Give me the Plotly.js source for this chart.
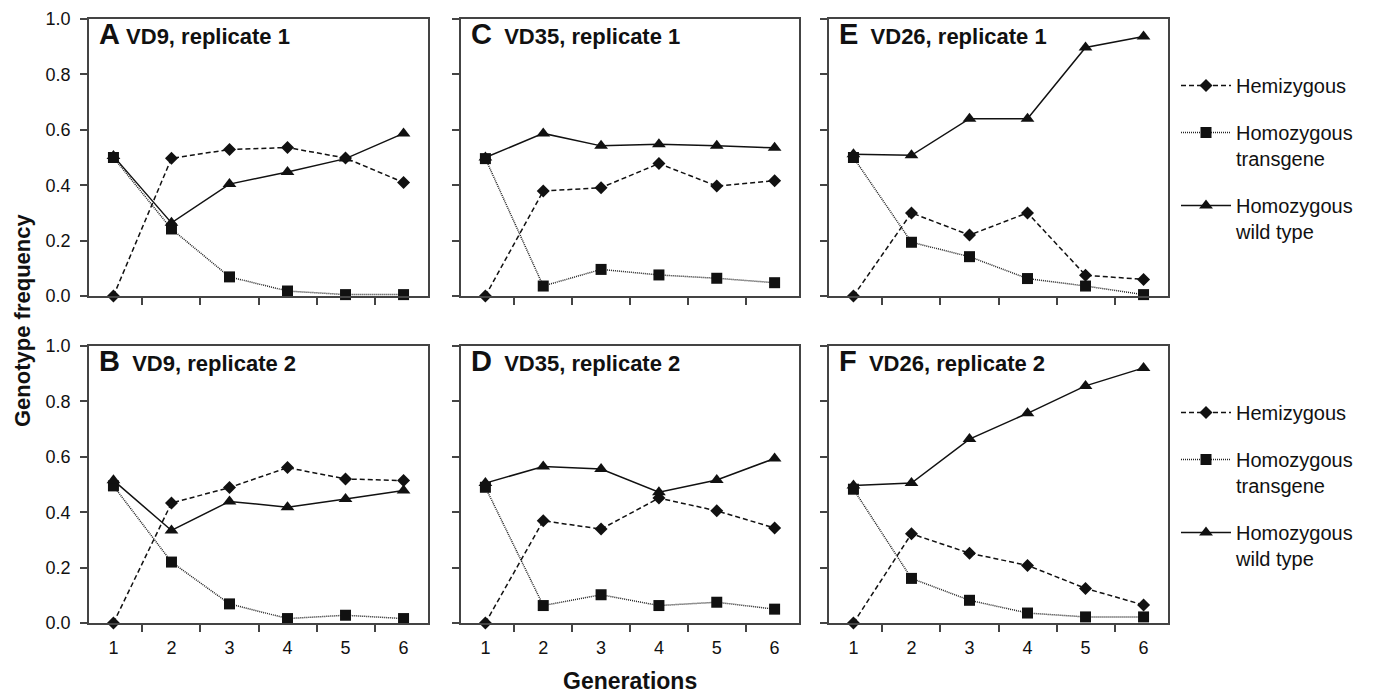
<!DOCTYPE html>
<html>
<head>
<meta charset="utf-8">
<script src="https://cdn.plot.ly/plotly-3.0.1.min.js"></script>
<style>html,body{margin:0;padding:0;background:#fff;}#chart{width:1374px;height:696px;}</style>
</head>
<body>
<div id="chart"></div>
<script>
// Generations (x categories)
const generations = ['1', '2', '3', '4', '5', '6'];

// Panel A: VD9, replicate 1
const hemiA  = [0, 0.497, 0.529, 0.536, 0.498, 0.410];
const transA = [0.500, 0.242, 0.069, 0.018, 0.005, 0.005];
const wildA  = [0.505, 0.264, 0.404, 0.448, 0.496, 0.587];

// Panel C: VD35, replicate 1
const hemiC  = [0, 0.379, 0.391, 0.478, 0.397, 0.416];
const transC = [0.496, 0.036, 0.096, 0.076, 0.064, 0.048];
const wildC  = [0.500, 0.587, 0.542, 0.548, 0.542, 0.535];

// Panel E: VD26, replicate 1
const hemiE  = [0, 0.300, 0.220, 0.300, 0.075, 0.060];
const transE = [0.500, 0.194, 0.142, 0.063, 0.036, 0.005];
const wildE  = [0.512, 0.508, 0.640, 0.640, 0.897, 0.937];

// Panel B: VD9, replicate 2
const hemiB  = [0, 0.433, 0.489, 0.561, 0.520, 0.514];
const transB = [0.495, 0.220, 0.069, 0.016, 0.028, 0.016];
const wildB  = [0.515, 0.334, 0.439, 0.418, 0.448, 0.478];

// Panel D: VD35, replicate 2
const hemiD  = [0, 0.369, 0.339, 0.451, 0.405, 0.343];
const transD = [0.490, 0.063, 0.102, 0.063, 0.075, 0.050];
const wildD  = [0.505, 0.565, 0.556, 0.472, 0.516, 0.594];

// Panel F: VD26, replicate 2
const hemiF  = [0, 0.322, 0.252, 0.208, 0.125, 0.065];
const transF = [0.483, 0.161, 0.082, 0.036, 0.022, 0.022];
const wildF  = [0.496, 0.505, 0.664, 0.757, 0.856, 0.921];

const seriesNames = ['Hemizygous', 'Homozygous<br>transgene', 'Homozygous<br>wild type'];
const panelLetters = ['A', 'C', 'E', 'B', 'D', 'F'];
const panelTitles = ['VD9, replicate 1', 'VD35, replicate 1', 'VD26, replicate 1',
                     'VD9, replicate 2', 'VD35, replicate 2', 'VD26, replicate 2'];
const yTickVals = [0, 0.2, 0.4, 0.6, 0.8, 1.0];

const panels = [
  [hemiA, transA, wildA], [hemiC, transC, wildC], [hemiE, transE, wildE],
  [hemiB, transB, wildB], [hemiD, transD, wildD], [hemiF, transF, wildF]
];

const W = 1374, H = 696;
const FONT = 'Arial, "Liberation Sans", Helvetica, sans-serif';
const colsPx = [[89, 428], [461, 799], [829, 1168]];
const rowsPx = [[19, 296], [346, 623]];

const styles = [
  {line: {color: '#111', width: 1.5, dash: '5px,3px'}, marker: {symbol: 'diamond', size: 10, color: '#111'}},
  {line: {color: '#222', width: 1.5, dash: '1px,1px'}, marker: {symbol: 'square', size: 11, color: '#111'}},
  {line: {color: '#111', width: 1.5}, marker: {symbol: 'triangle-up', size: 12, color: '#111'}}
];

const data = [];
panels.forEach((series, p) => {
  const ax = p === 0 ? '' : String(p + 1);
  series.forEach((vals, s) => {
    const legendName = p === 2 ? 'legend' : (p === 5 ? 'legend2' : null);
    data.push({
      type: 'scatter', mode: 'lines+markers',
      x: generations, y: vals,
      xaxis: 'x' + ax, yaxis: 'y' + ax,
      name: seriesNames[s],
      line: styles[s].line,
      marker: Object.assign({line: {width: 0}}, styles[s].marker),
      cliponaxis: false,
      showlegend: legendName !== null,
      legend: legendName || 'legend',
      legendgroup: 'g' + s + (legendName || ''),
      hoverinfo: 'x+y'
    });
  });
});

const legendCommon = {
  xanchor: 'left', yanchor: 'top',
  font: {family: FONT, size: 20, color: '#111'},
  bgcolor: 'rgba(0,0,0,0)', borderwidth: 0,
  tracegroupgap: 18, valign: 'top', itemwidth: 50
};

const layout = {
  width: W, height: H,
  margin: {l: 0, r: 0, t: 0, b: 0},
  paper_bgcolor: '#fff', plot_bgcolor: '#fff',
  font: {family: FONT, size: 18, color: '#111'},
  showlegend: true,
  legend: Object.assign({x: 1176 / W, y: 1 - 66 / H}, legendCommon),
  legend2: Object.assign({x: 1176 / W, y: 1 - 393 / H}, legendCommon),
  annotations: [],
  hovermode: 'closest'
};

for (let p = 0; p < 6; p++) {
  const col = p % 3, row = Math.floor(p / 3);
  const ax = p === 0 ? '' : String(p + 1);
  const [x0, x1] = colsPx[col];
  const [yt, yb] = rowsPx[row];
  layout['xaxis' + ax] = {
    type: 'category',
    domain: [x0 / W, x1 / W],
    anchor: 'y' + ax,
    tickson: 'boundaries',
    ticks: 'outside', ticklen: 7, tickwidth: 1.5, tickcolor: '#444',
    showline: true, mirror: true, linecolor: '#444', linewidth: 1.5,
    showgrid: false, zeroline: false,
    showticklabels: row === 1,
    ticklabelstandoff: 8,
    tickfont: {family: FONT, size: 18, color: '#111'},
    fixedrange: true
  };
  layout['yaxis' + ax] = {
    domain: [1 - yb / H, 1 - yt / H],
    anchor: 'x' + ax,
    range: [0, 1],
    tickvals: yTickVals, tickformat: '.1f',
    ticks: 'outside', ticklen: 7, tickwidth: 1.5, tickcolor: '#444',
    showline: true, mirror: true, linecolor: '#444', linewidth: 1.5,
    showgrid: false, zeroline: false,
    showticklabels: col === 0,
    ticklabelstandoff: 6,
    tickfont: {family: FONT, size: 18, color: '#111'},
    fixedrange: true
  };
  const gap = (panelLetters[p] === 'A') ? ' ' : '\u00A0\u00A0';
  layout.annotations.push({
    xref: 'paper', yref: 'paper',
    x: (x0 + 8) / W, y: 1 - (yt + 15) / H,
    xanchor: 'left', yanchor: 'middle', showarrow: false,
    text: '<b><span style="font-size:29px">' + panelLetters[p] + '</span>' + gap + panelTitles[p] + '</b>',
    font: {family: FONT, size: 22, color: '#111'}
  });
}

layout.annotations.push({
  xref: 'paper', yref: 'paper', x: 22 / W, y: 1 - 321 / H,
  xanchor: 'center', yanchor: 'middle', showarrow: false, textangle: -90,
  text: '<b>Genotype frequency</b>',
  font: {family: FONT, size: 22, color: '#111'}
});
layout.annotations.push({
  xref: 'paper', yref: 'paper', x: 630 / W, y: 1 - 681 / H,
  xanchor: 'center', yanchor: 'middle', showarrow: false,
  text: '<b>Generations</b>',
  font: {family: FONT, size: 23, color: '#111'}
});

Plotly.newPlot('chart', data, layout, {displayModeBar: false});
</script>
</body>
</html>
